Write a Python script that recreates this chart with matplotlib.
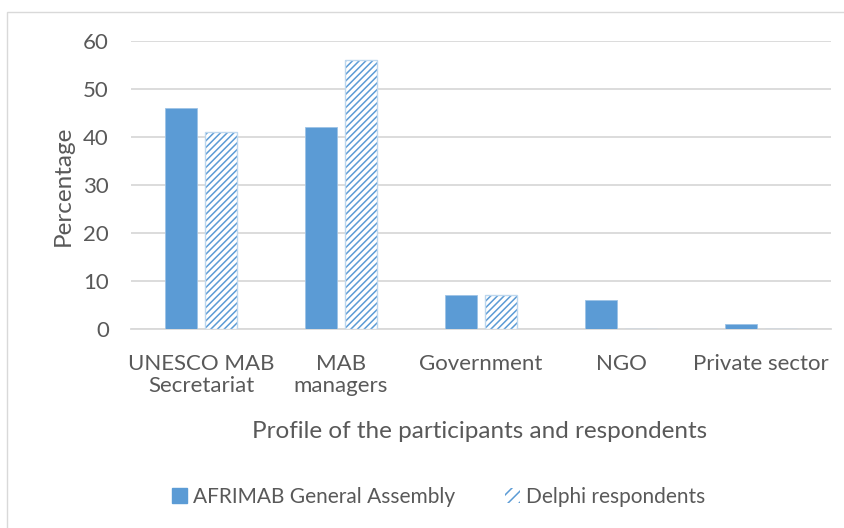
import matplotlib.pyplot as plt
import matplotlib.patches as mpatches
import numpy as np

categories = ['UNESCO MAB\nSecretariat', 'MAB\nmanagers', 'Government', 'NGO', 'Private sector']
afrimab = [46, 42, 7, 6, 1]
delphi = [41, 56, 7, 0, 0]
yticks = [0, 10, 20, 30, 40, 50, 60]

blue = '#5B9BD5'
grey = '#595959'
plt.rcParams['font.family'] = ['Lato', 'DejaVu Sans']
plt.rcParams['hatch.linewidth'] = 1.1

fig = plt.figure(figsize=(8.44, 5.28), dpi=100)
ax = fig.add_axes([131 / 844, 1 - 329 / 528, 700 / 844, (329 - 41) / 528])

# chart frame
fig.patches.append(mpatches.Rectangle((7 / 844, -0.1), 1.2, 1 - 12 / 528 + 0.1,
                                      transform=fig.transFigure, fill=False,
                                      edgecolor='#D9D9D9', linewidth=1))

x = np.arange(len(categories))
w = 0.225
ax.bar(x - 0.142, afrimab, w, color=blue, edgecolor='#9DC3E6', linewidth=0.6, zorder=3)
# hatched bars: hatch takes edge colour, so outline drawn separately
ax.bar(x + 0.142, delphi, w, color='white', edgecolor=blue, hatch='/////',
       linewidth=0, zorder=3)
ax.bar(x + 0.142, delphi, w, fill=False, edgecolor='#BDD7EE', linewidth=1.0, zorder=4)

ax.set_xlim(-0.5, len(categories) - 0.5)
ax.set_ylim(0, 60)
ax.set_yticks(yticks)
ax.set_xticks(x)
ax.set_xticklabels(categories, fontsize=16, color=grey, linespacing=1.1)
ax.tick_params(axis='y', labelsize=16, labelcolor=grey, length=0, pad=16)
ax.tick_params(axis='x', length=0, pad=18)
ax.grid(axis='y', color='#D9D9D9', linewidth=1.3, zorder=0)
for s in ['top', 'right', 'left']:
    ax.spines[s].set_visible(False)
ax.spines['bottom'].set_color('#D9D9D9')
ax.spines['bottom'].set_linewidth(1.3)

fig.text(63 / 844, 1 - 186 / 528, 'Percentage', rotation=90, fontsize=17.5,
         color=grey, ha='center', va='center')
fig.text(480 / 844, 1 - 432 / 528, 'Profile of the participants and respondents',
         fontsize=17.5, color=grey, ha='center', va='center')

h1 = mpatches.Patch(facecolor=blue, edgecolor=blue)
h2 = mpatches.Patch(facecolor='white', edgecolor=blue, hatch='///', linewidth=0)
fig.legend([h1, h2], ['AFRIMAB General Assembly', 'Delphi respondents'],
           loc='center', bbox_to_anchor=(439 / 844, 1 - 497 / 528), ncol=2,
           frameon=False, fontsize=15, labelcolor=grey, handlelength=0.7,
           handleheight=0.7, handletextpad=0.3, columnspacing=2.4)

fig.savefig('out.png', dpi=100)
